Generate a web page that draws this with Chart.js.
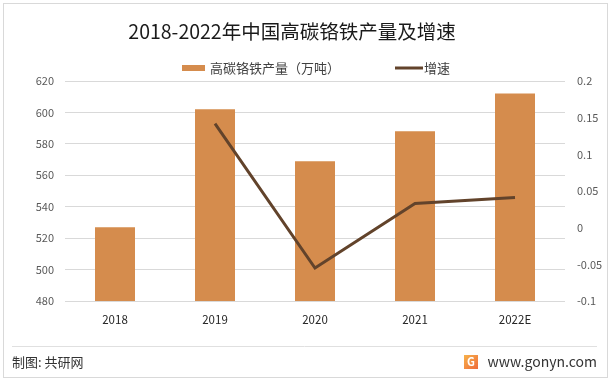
<!DOCTYPE html>
<html>
<head>
<meta charset="utf-8">
<script src="https://cdn.jsdelivr.net/npm/chart.js@4/dist/chart.umd.min.js"></script>
<style>
body { margin: 0; background: #fff; }
#wrap { position: relative; width: 614px; height: 383px; }
#frame { position: absolute; left: 3px; top: 3px; width: 605px; height: 375px; border: 1px solid #d9d9d9; box-sizing: border-box; }
canvas { position: absolute; left: 0; top: 0; }
</style>
</head>
<body>
<div id="wrap">
  <div id="frame"></div>
  <canvas id="my-chart" width="614" height="383"></canvas>
</div>
<script>
var years = ['2018', '2019', '2020', '2021', '2022E'];
var output = [527, 602, 569, 588, 612];
var growth = [null, 0.142, -0.055, 0.033, 0.041];
var leftTicks = [480, 620, 20];
var rightTicks = [-0.1, 0.2, 0.05];

var titleText = '2018-2022年中国高碳铬铁产量及增速';
var barLabel = '高碳铬铁产量（万吨）';
var lineLabel = '增速';
var barColor = '#d58c4d';
var lineColor = '#62432b';
var font = '"Noto Sans CJK SC", "Noto Sans", sans-serif';

// title, legend and footer drawn on the canvas
var overlay = {
  id: 'overlay',
  afterDraw: function(chart) {
    var ctx = chart.ctx;
    var ds = chart.data.datasets;
    ctx.save();
    ctx.textBaseline = 'middle';

    ctx.fillStyle = '#1a1a1a';
    ctx.font = '19.5px ' + font;
    ctx.textAlign = 'center';
    ctx.fillText(titleText, 292, 32);

    ctx.textAlign = 'left';
    ctx.font = '13px ' + font;
    ctx.fillStyle = ds[0].backgroundColor;
    ctx.fillRect(182, 65, 23, 6);
    ctx.fillStyle = '#404040';
    ctx.fillText(ds[0].label, 210, 68);

    ctx.strokeStyle = ds[1].borderColor;
    ctx.lineWidth = 3;
    ctx.beginPath();
    ctx.moveTo(395, 68);
    ctx.lineTo(423, 68);
    ctx.stroke();
    ctx.fillText(ds[1].label, 424, 68);

    // footer
    ctx.strokeStyle = '#e0e0e0';
    ctx.lineWidth = 1;
    ctx.beginPath();
    ctx.moveTo(12, 346.5);
    ctx.lineTo(597, 346.5);
    ctx.stroke();
    ctx.fillStyle = '#333';
    ctx.font = '13px ' + font;
    ctx.fillText('制图: 共研网', 12, 362);
    ctx.font = '14px ' + font;
    ctx.textAlign = 'right';
    ctx.fillText('www.gonyn.com', 597, 362);

    var g = ctx.createLinearGradient(464, 355, 478, 369);
    g.addColorStop(0, '#f7b24a');
    g.addColorStop(1, '#ef6a3a');
    ctx.fillStyle = g;
    ctx.fillRect(464, 355, 14, 14);
    ctx.fillStyle = '#fff';
    ctx.font = 'bold 11px ' + font;
    ctx.textAlign = 'center';
    ctx.fillText('G', 471, 362);
    ctx.restore();
  }
};

var ctx = document.getElementById('my-chart');
var myChart = new Chart(ctx, {
  type: 'bar',
  data: {
    labels: years,
    datasets: [
      {
        type: 'bar',
        label: barLabel,
        data: output,
        backgroundColor: barColor,
        yAxisID: 'y',
        categoryPercentage: 1,
        barPercentage: 0.4,
        order: 1
      },
      {
        type: 'line',
        label: lineLabel,
        data: growth,
        borderColor: lineColor,
        borderWidth: 3,
        pointRadius: 0,
        fill: false,
        tension: 0,
        yAxisID: 'y1',
        order: 0
      }
    ]
  },
  options: {
    responsive: false,
    animation: false,
    layout: { padding: { top: 81, left: 0, right: 0, bottom: 0 } },
    plugins: {
      legend: { display: false },
      title: { display: false },
      tooltip: { enabled: false }
    },
    scales: {
      x: {
        grid: { display: false },
        border: { display: false },
        ticks: { color: '#262626', font: { size: 11.5, family: font }, padding: 4 },
        afterFit: function(s) { s.height = 82; }
      },
      y: {
        position: 'left',
        min: leftTicks[0],
        max: leftTicks[1],
        ticks: { stepSize: leftTicks[2], color: '#595959', font: { size: 11, family: font }, padding: 11 },
        grid: { color: '#d9d9d9', drawTicks: false },
        border: { display: false },
        afterFit: function(s) { s.width = 65; }
      },
      y1: {
        position: 'right',
        min: rightTicks[0],
        max: rightTicks[1],
        ticks: {
          stepSize: rightTicks[2], color: '#595959', font: { size: 11, family: font }, padding: 12,
          callback: function(v) { return String(parseFloat(v.toFixed(2))); }
        },
        grid: { display: false, drawTicks: false },
        border: { display: false },
        afterFit: function(s) { s.width = 49; }
      }
    }
  },
  plugins: [overlay]
});
</script>
</body>
</html>
